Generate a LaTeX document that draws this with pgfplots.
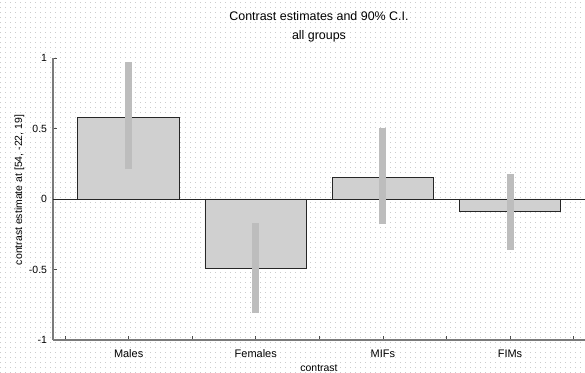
\documentclass[border=0pt]{standalone}
\usepackage{fontspec}
\setmainfont{Liberation Sans}
\usepackage{pgfplots}
\pgfplotsset{compat=1.18}
\usetikzlibrary{patterns}
\pgfdeclarepatternformonly{bgdots}{\pgfqpoint{-1bp}{-1bp}}{\pgfqpoint{1bp}{1bp}}{\pgfqpoint{5bp}{5bp}}{%
  \pgfpathrectangle{\pgfqpoint{-0.5bp}{-0.5bp}}{\pgfqpoint{1bp}{1bp}}\pgfusepath{fill}}
\definecolor{axgray}{HTML}{7A7A7A}
\definecolor{barfill}{HTML}{D0D0D0}
\definecolor{cigray}{HTML}{BDBDBD}
\begin{document}
\begin{tikzpicture}
\fill[pattern=bgdots, pattern color=gray!40] (-53bp,-33bp) rectangle (532bp,340bp);
\begin{axis}[
  scale only axis,
  width=532bp, height=282bp,
  at={(0,0)}, anchor=south west,
  xmin=0.405, xmax=4.59,
  ymin=-1, ymax=1,
  axis x line=bottom, axis y line=left,
  axis line style={axgray, line width=1.5bp, -},
  xtick={0.5,1,1.5,2,2.5,3,3.5,4,4.5},
  xticklabels={,Males,,Females,,MIFs,,FIMs,},
  ytick={-1,-0.5,0,0.5,1},
  yticklabels={-1,-0.5,0,0.5,1},
  tick align=inside,
  major tick length=4bp,
  tick style={black!70, line width=0.6bp},
  xticklabel style={font=\fontsize{11}{13}\selectfont, anchor=base, yshift=-17bp},
  yticklabel style={font=\fontsize{10.5}{12}\selectfont, anchor=east, xshift=-2.5bp},
  title={Contrast estimates and 90\% C.I.\\all groups},
  title style={font=\fontsize{12.5}{19}\selectfont, align=center, at={(0.5,1)}, anchor=south, inner sep=0pt, yshift=9.5bp},
  clip=false,
  unbounded coords=jump,
]
\addplot[ybar, bar width=0.8, bar shift=0pt, fill=barfill, draw=black!85, line width=0.8bp]
  coordinates {(1,0.58) (2,-0.49) (3,0.15) (4,-0.09)};
\addplot[black!85, line width=0.8bp] coordinates {(0.405,0) (4.59,0)};
\addplot[cigray, line width=7bp, line cap=butt]
  coordinates {(1,0.21) (1,0.97) (1,nan) (2,-0.81) (2,-0.17) (2,nan) (3,-0.18) (3,0.50) (3,nan) (4,-0.36) (4,0.18)};
\end{axis}
\node[rotate=90, anchor=base, font=\fontsize{10.5}{12}\selectfont] at (-31bp,150bp) {contrast estimate at [54, -22, 19]};
\node[anchor=base, font=\fontsize{10.5}{12}\selectfont] at (266bp,-31bp) {contrast};
\pgfresetboundingbox
\path[use as bounding box] (-53bp,-33bp) rectangle (532bp,340bp);
\end{tikzpicture}
\end{document}
